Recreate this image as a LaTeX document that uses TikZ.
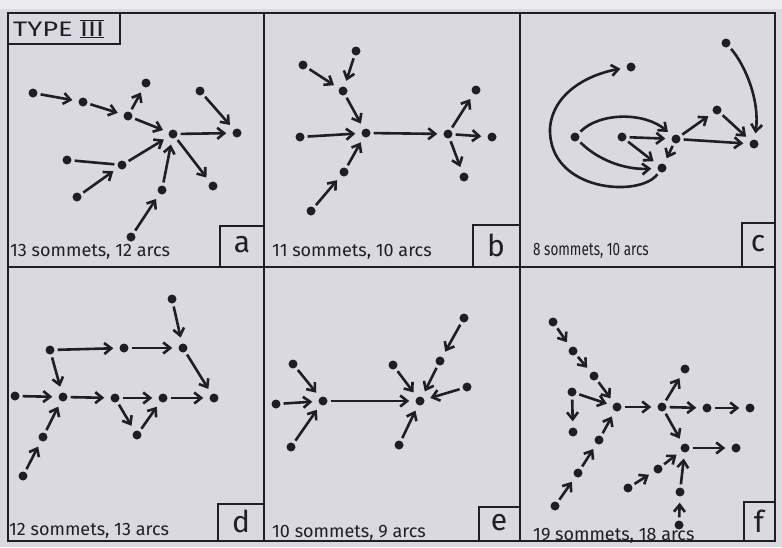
\documentclass[tikz,border=0pt]{standalone}
\usepackage{fontspec}
\usepackage{graphicx}
\setmainfont{Fira Sans}
\usetikzlibrary{arrows.meta}
\definecolor{paper}{RGB}{218,216,224}
\definecolor{papertop}{RGB}{236,236,240}
\definecolor{ink}{RGB}{30,30,36}
\tikzset{
  v/.style={circle,fill=ink,inner sep=0pt,minimum size=9pt},
  arc/.style={draw=ink,line width=2.6pt,-{Straight Barb[length=7pt,width=11pt,line width=2.6pt]},shorten >=6pt,shorten <=3pt},
  plain/.style={draw=ink,line width=2.6pt,shorten >=3pt,shorten <=3pt},
  frame/.style={draw=ink,line width=2pt},
  lab/.style={anchor=base west,inner sep=0pt,text=ink,font=\fontsize{18}{21}\selectfont},
  letter/.style={text=ink,font=\fontsize{30}{32}\selectfont}
}
\begin{document}
\begin{tikzpicture}[x=1pt,y=-1pt]
\useasboundingbox (0,0) rectangle (782,547);
\fill[paper] (0,0) rectangle (782,547);
\fill[papertop] (0,0) rectangle (782,9);
% frame and grid
\draw[frame] (8,13) rectangle (775,541);
\draw[frame] (264,13) -- (264,541);
\draw[frame] (520,13) -- (520,541);
\draw[frame] (8,267) -- (775,267);
% type box
\draw[frame] (8,13) rectangle (120,44);
\node[text=ink,font=\fontsize{21}{24}\selectfont,anchor=west,inner sep=0pt] (type) at (13,29) {\scalebox{1.3}[1]{TYPE $\overline{\underline{\mbox{III}}}$}};
% letter boxes
\draw[frame] (220,226) rectangle (264,267);
\node[letter] (la) at (242,245) {a};
\draw[frame] (473,225) rectangle (520,267);
\node[letter] (lb) at (496,245) {b};
\draw[frame] (742,223) rectangle (775,267);
\node[letter] (lc) at (758,244) {c};
\draw[frame] (218,504) rectangle (264,541);
\node[letter] (ld) at (241,521) {d};
\draw[frame] (479,507) rectangle (520,541);
\node[letter] (le) at (499,523) {e};
\draw[frame] (744,502) rectangle (775,541);
\node[letter] (lf) at (759,521) {f};
% captions
\node[lab] (ta) at (10,256) {13 sommets, 12 arcs};
\node[lab] (tb) at (272,256) {11 sommets, 10 arcs};
\node[lab] (tc) at (533,255) {\scalebox{0.75}[1]{8 sommets, 10 arcs}};
\node[lab] (td) at (9,535) {12 sommets, 13 arcs};
\node[lab] (te) at (272,537) {10 sommets, 9 arcs};
\node[lab] (tf) at (533,540) {19 sommets, 18 arcs};

% ---------- panel a ----------
\node[v] (a1) at (33,93) {};
\node[v] (a2) at (83,102) {};
\node[v] (a3) at (128,116) {};
\node[v] (a4) at (146,83) {};
\node[v] (aC) at (173,134) {};
\node[v] (r1) at (200,91) {};
\node[v] (r2) at (237,133) {};
\node[v] (b1) at (67,160) {};
\node[v] (b2) at (122,165) {};
\node[v] (b3) at (77,197) {};
\node[v] (d1) at (162,190) {};
\node[v] (d2) at (131,237) {};
\node[v] (ae) at (213,186) {};
\draw[arc] (a1) -- (a2);
\draw[arc] (a2) -- (a3);
\draw[arc] (a3) -- (a4);
\draw[arc] (a3) -- (aC);
\draw[arc] (r1) -- (r2);
\draw[arc] (aC) -- (r2);
\draw[plain] (b1) -- (b2);
\draw[arc] (b3) -- (b2);
\draw[arc] (b2) -- (aC);
\draw[arc] (d1) -- (aC);
\draw[arc] (d2) -- (d1);
\draw[arc] (aC) -- (ae);

% ---------- panel b ----------
\node[v] (p1) at (303,65) {};
\node[v] (p2) at (356,51) {};
\node[v] (p3) at (343,91) {};
\node[v] (pC) at (366,133) {};
\node[v] (p4) at (300,137) {};
\node[v] (p5) at (344,172) {};
\node[v] (p6) at (311,211) {};
\node[v] (pD) at (448,134) {};
\node[v] (p7) at (476,90) {};
\node[v] (p8) at (492,137) {};
\node[v] (p9) at (464,177) {};
\draw[arc] (p1) -- (p3);
\draw[arc] (p2) -- (p3);
\draw[arc] (p3) -- (pC);
\draw[arc] (p4) -- (pC);
\draw[arc] (p5) -- (pC);
\draw[arc] (p6) -- (p5);
\draw[arc] (pC) -- (pD);
\draw[arc] (pD) -- (p7);
\draw[arc] (pD) -- (p8);
\draw[arc] (pD) -- (p9);

% ---------- panel c ----------
\node[v] (c1) at (631,67) {};
\node[v] (c2) at (726,43) {};
\node[v] (c3) at (575,137) {};
\node[v] (c4) at (622,137) {};
\node[v] (c5) at (676,139) {};
\node[v] (c6) at (717,110) {};
\node[v] (c7) at (754,144) {};
\node[v] (c8) at (662,168) {};
\draw[arc] (c8) .. controls (640,198) and (548,192) .. (550,128) .. controls (553,92) and (590,74) .. (c1);
\draw[arc] (c3) .. controls (600,112) and (645,112) .. (c5);
\draw[arc] (c3) .. controls (598,160) and (625,170) .. (c8);
\draw[arc] (c4) -- (c5);
\draw[arc] (c4) -- (c8);
\draw[arc] (c5) -- (c8);
\draw[arc] (c5) -- (c6);
\draw[arc] (c5) -- (c7);
\draw[arc] (c6) -- (c7);
\draw[arc] (c2) .. controls (745,65) and (760,100) .. (c7);

% ---------- panel d ----------
\node[v] (q1) at (50,350) {};
\node[v] (q2) at (124,348) {};
\node[v] (q3) at (183,348) {};
\node[v] (q4) at (172,299) {};
\node[v] (q5) at (15,396) {};
\node[v] (qC) at (63,397) {};
\node[v] (q6) at (115,398) {};
\node[v] (q7) at (163,398) {};
\node[v] (q8) at (214,398) {};
\node[v] (q9) at (137,435) {};
\node[v] (q10) at (43,437) {};
\node[v] (q11) at (23,476) {};
\draw[arc] (q1) -- (q2);
\draw[arc] (q2) -- (q3);
\draw[arc] (q4) -- (q3);
\draw[arc] (q3) -- (q8);
\draw[arc] (q1) -- (qC);
\draw[arc] (q5) -- (qC);
\draw[arc] (qC) -- (q6);
\draw[arc] (q6) -- (q7);
\draw[arc] (q7) -- (q8);
\draw[arc] (q6) -- (q9);
\draw[arc] (q9) -- (q7);
\draw[arc] (q10) -- (qC);
\draw[arc] (q11) -- (q10);

% ---------- panel e ----------
\node[v] (e1) at (293,364) {};
\node[v] (e2) at (276,404) {};
\node[v] (e3) at (291,447) {};
\node[v] (eC) at (323,401) {};
\node[v] (eD) at (420,401) {};
\node[v] (e4) at (393,365) {};
\node[v] (e5) at (440,361) {};
\node[v] (e6) at (464,318) {};
\node[v] (e7) at (467,387) {};
\node[v] (e8) at (399,445) {};
\draw[arc] (e1) -- (eC);
\draw[arc] (e2) -- (eC);
\draw[arc] (e3) -- (eC);
\draw[arc] (eC) -- (eD);
\draw[arc] (e4) -- (eD);
\draw[arc] (e5) -- (eD);
\draw[arc] (e6) -- (e5);
\draw[arc] (e7) -- (eD);
\draw[arc] (e8) -- (eD);

% ---------- panel f ----------
\node[v] (f1) at (553,322) {};
\node[v] (f2) at (573,351) {};
\node[v] (f3) at (594,376) {};
\node[v] (f4) at (572,392) {};
\node[v] (f5) at (573,432) {};
\node[v] (fC) at (617,407) {};
\node[v] (fD) at (662,407) {};
\node[v] (f6) at (685,369) {};
\node[v] (f7) at (707,408) {};
\node[v] (f8) at (750,408) {};
\node[v] (fE) at (685,448) {};
\node[v] (f9) at (736,448) {};
\node[v] (f10) at (599,440) {};
\node[v] (f11) at (578,473) {};
\node[v] (f12) at (555,506) {};
\node[v] (f13) at (658,469) {};
\node[v] (f14) at (628,488) {};
\node[v] (f15) at (680,492) {};
\node[v] (f16) at (679,525) {};
\draw[arc] (f1) -- (f2);
\draw[arc] (f2) -- (f3);
\draw[arc] (f3) -- (fC);
\draw[arc] (f4) -- (fC);
\draw[arc] (f4) -- (f5);
\draw[arc] (fC) -- (fD);
\draw[arc] (fD) -- (f6);
\draw[arc] (fD) -- (f7);
\draw[arc] (f7) -- (f8);
\draw[arc] (fD) -- (fE);
\draw[arc] (fE) -- (f9);
\draw[arc] (f10) -- (fC);
\draw[arc] (f11) -- (f10);
\draw[arc] (f12) -- (f11);
\draw[arc] (f13) -- (fE);
\draw[arc] (f14) -- (f13);
\draw[arc] (f15) -- (fE);
\draw[arc] (f16) -- (f15);
\end{tikzpicture}
\end{document}
